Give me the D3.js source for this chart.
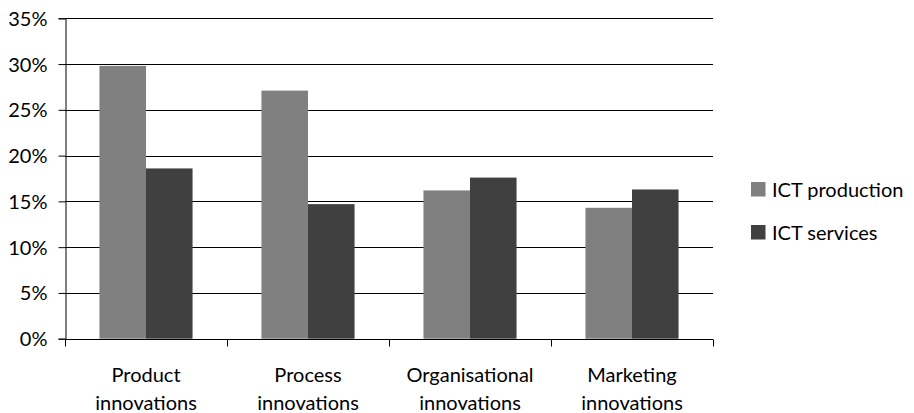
<!DOCTYPE html>
<html><head><meta charset="utf-8">
<script src="https://cdn.jsdelivr.net/npm/d3@7"></script>
<style>body{margin:0;background:#fff}text{font-family:Lato,sans-serif;fill:#000}</style>
</head><body><svg id="c" width="914" height="413"></svg>
<script>
const categories = [["Product","innovations"],["Process","innovations"],["Organisational","innovations"],["Marketing","innovations"]];
const seriesNames = ["ICT production","ICT services"];
const ictProduction = [29.8, 27.1, 16.2, 14.3];
const ictServices = [18.6, 14.7, 17.6, 16.3];
const yTicks = [0,5,10,15,20,25,30,35];
const colors = ["#808080","#404040"];

const svg = d3.select("#c");
const L=65, R=713, T=18.3, B=338.7;
const FS="20px";
const x = d3.scaleBand().domain(d3.range(categories.length)).range([L,R]);
const xs = d3.scaleBand().domain([0,1]).range([0,x.bandwidth()]).paddingInner(0).paddingOuter(0.74);
const y = d3.scaleLinear().domain([0,35]).range([B,T]);

// gridlines
svg.append("g").selectAll("line").data(yTicks.filter(d=>d>0)).join("line")
  .attr("x1",L).attr("x2",R).attr("y1",d=>Math.round(y(d))+0.5).attr("y2",d=>Math.round(y(d))+0.5)
  .attr("stroke","#000").attr("stroke-width",1);

// bars
const series=[ictProduction, ictServices];
series.forEach((vals,si)=>{
  svg.append("g").selectAll("rect").data(vals).join("rect")
    .attr("x",(d,i)=>x(i)+xs(si)).attr("width",xs.bandwidth())
    .attr("y",d=>y(d)).attr("height",d=>B-y(d)).attr("fill",colors[si]);
});

// y axis
const ya = svg.append("g").attr("transform",`translate(${L+0.5},0)`)
  .call(d3.axisLeft(y).tickValues(yTicks).tickFormat(d=>d+"%").tickSize(7).tickPadding(11));
ya.select(".domain").attr("stroke","#000");
ya.selectAll(".tick line").attr("stroke","#000");
ya.selectAll("text").style("font-size",FS).style("font-family","Lato,sans-serif").attr("dy","0.35em");

// x axis
const xa = svg.append("g").attr("transform",`translate(0,${Math.round(B)+0.5})`);
xa.append("line").attr("x1",L).attr("x2",R).attr("stroke","#000");
xa.selectAll("line.t").data(d3.range(categories.length+1)).join("line").attr("class","t")
  .attr("x1",i=>Math.round(i<categories.length?x(i):R)+0.5).attr("x2",i=>Math.round(i<categories.length?x(i):R)+0.5)
  .attr("y1",0).attr("y2",7).attr("stroke","#000");
const labs = xa.selectAll("text").data(categories).join("text")
  .attr("text-anchor","middle").style("font-size",FS)
  .attr("transform",(d,i)=>`translate(${x(i)+x.bandwidth()/2},0)`);
labs.selectAll("tspan").data(d=>d).join("tspan").attr("x",0).attr("y",(d,j)=>42+j*28).text(d=>d);

// legend
const lg = svg.append("g").selectAll("g").data(seriesNames).join("g")
  .attr("transform",(d,i)=>`translate(751,${182+i*43})`);
lg.append("rect").attr("width",14.5).attr("height",14.5).attr("fill",(d,i)=>colors[i]);
lg.append("text").attr("x",21).attr("y",7.5).attr("dy","0.35em").style("font-size",FS).text(d=>d);
</script></body></html>
